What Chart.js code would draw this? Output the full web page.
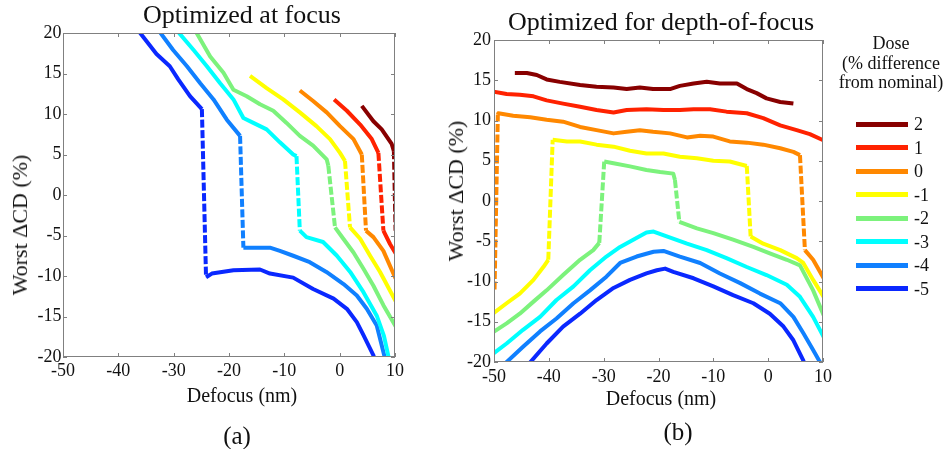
<!DOCTYPE html>
<html>
<head>
<meta charset="utf-8">
<title>Worst ΔCD versus defocus</title>
<script src="https://cdn.jsdelivr.net/npm/chart.js@4.4.1/dist/chart.umd.min.js"></script>
<style>
  html, body { margin: 0; padding: 0; background: #fff; }
  #page { position: relative; width: 948px; height: 449px; overflow: hidden;
          font-family: 'Liberation Serif', 'Times New Roman', serif; color: #111; }
  canvas { position: absolute; top: 0; }
  .txt { position: absolute; white-space: nowrap; line-height: 1; transform: translate(-50%, -50%); }
  .ytitle { font-size: 22px; transform: translate(-50%, -50%) rotate(-90deg); }
  .panel { font-size: 25px; }
  #legendTitle { position: absolute; left: 836px; top: 34px; width: 110px; text-align: center;
                 font-size: 18px; line-height: 19.5px; white-space: nowrap; }
  .swatch { position: absolute; left: 856px; width: 52px; height: 5px; }
  .lab { position: absolute; left: 914px; font-size: 18px; line-height: 18px; }
</style>
</head>
<body>
<div id="page">
  <canvas id="chartFocus" width="484" height="449" style="left:0px"></canvas>
  <canvas id="chartDof" width="442" height="449" style="left:440px"></canvas>
  <div class="txt ytitle" style="left:20px; top:225px;">Worst ΔCD (%)</div>
  <div class="txt ytitle" style="left:456px; top:191px;">Worst ΔCD (%)</div>
  <div class="txt panel" style="left:237px; top:435px;">(a)</div>
  <div class="txt panel" style="left:678px; top:431px;">(b)</div>
  <div id="legendTitle">Dose<br>(% difference<br>from nominal)</div>
  <div id="legendItems"></div>
</div>
<script>
// Dose levels (% difference from nominal) and the tick values of both axes
const doseLabels = ['2', '1', '0', '-1', '-2', '-3', '-4', '-5'];
const defocusTicks = [-50, -40, -30, -20, -10, 0, 10];
const cdTicks = [-20, -15, -10, -5, 0, 5, 10, 15, 20];

// (a) Optimized at focus — [defocus (nm), worst ΔCD (%)]
const focusDoseP2 = [[4.0,11.0],[6.1,9.1],[7.6,8.1],[9.4,6.3],[9.8,5.4],[10.1,-4.4]];
const focusDoseP1 = [[-1.0,11.8],[1.3,10.4],[3.7,8.7],[5.8,6.9],[7.0,5.2],[7.9,-4.4],[9.1,-6.05],[10.1,-7.2]];
const focusDose0 = [[-7.2,12.9],[-4.8,11.6],[-2.35,10.2],[0.06,8.5],[2.5,6.9],[4.0,5.0],[4.76,-4.4],[6.1,-5.2],[7.9,-6.9],[10.1,-10.3]];
const focusDoseM1 = [[-16.2,14.7],[-13.2,13.2],[-10.2,11.8],[-7.2,10.2],[-4.2,8.5],[-1.75,6.9],[0.06,5.2],[0.96,4.2],[1.87,-4.0],[3.7,-5.4],[5.5,-7.5],[7.3,-9.5],[10.1,-13.1]];
const focusDoseM2 = [[-26.1,20.3],[-23.4,17.1],[-21.0,15.1],[-19.2,13.0],[-16.8,12.2],[-14.4,11.2],[-12.0,10.4],[-9.6,8.9],[-7.2,7.3],[-4.8,6.1],[-2.35,4.4],[-2.05,3.6],[-0.84,-4.0],[0.66,-5.4],[2.5,-7.1],[4.3,-9.1],[6.1,-11.2],[7.9,-13.6],[10.1,-16.2]];
const focusDoseM3 = [[-29.4,20.3],[-26.4,17.9],[-24.0,15.9],[-21.6,13.8],[-19.2,11.8],[-17.4,9.5],[-15.6,8.9],[-13.2,8.1],[-10.8,6.5],[-8.4,5.0],[-7.8,4.8],[-7.2,-4.4],[-6.0,-5.2],[-3.0,-5.8],[-0.5,-7.5],[1.9,-9.5],[4.3,-12.0],[6.7,-14.9],[8.0,-17.4],[8.9,-20.2]];
const focusDoseM4 = [[-32.7,20.3],[-30.1,17.9],[-27.6,15.9],[-25.2,13.8],[-22.8,11.8],[-20.4,9.3],[-18.0,7.3],[-17.4,-6.5],[-12.6,-6.5],[-10.8,-6.9],[-8.4,-7.5],[-5.4,-8.3],[-2.4,-9.5],[0.7,-11.0],[3.1,-12.4],[4.9,-14.05],[6.7,-16.1],[8.2,-20.2]];
const focusDoseM5 = [[-36.4,20.3],[-33.1,17.4],[-30.7,15.9],[-29.2,14.3],[-27.05,12.2],[-24.9,10.6],[-24.15,-10.15],[-23.1,-9.7],[-19.2,-9.3],[-14.4,-9.2],[-12.6,-9.7],[-8.4,-10.2],[-4.8,-11.6],[-1.1,-12.8],[1.3,-14.05],[3.1,-15.7],[4.3,-17.3],[6.1,-19.8],[6.3,-20.3]];

// (b) Optimized for depth-of-focus — [defocus (nm), worst ΔCD (%)]
const dofDoseP2 = [[-46.2,15.9],[-44.0,15.9],[-42.2,15.65],[-40.4,15.1],[-38.0,14.8],[-34.3,14.4],[-31.3,14.2],[-28.2,14.1],[-25.8,13.9],[-23.4,14.1],[-21.0,13.9],[-17.9,13.9],[-16.1,14.3],[-13.6,14.6],[-11.2,14.8],[-8.8,14.6],[-5.7,14.6],[-3.9,13.9],[-2.1,13.4],[-0.3,12.75],[2.2,12.3],[4.6,12.1]];
const dofDoseP1 = [[-50.2,13.6],[-47.7,13.3],[-45.3,13.2],[-42.8,13.0],[-40.4,12.5],[-37.4,12.1],[-34.3,11.7],[-31.3,11.3],[-28.2,11.0],[-25.8,11.3],[-22.2,11.4],[-19.1,11.3],[-16.1,11.3],[-13.6,11.4],[-10.6,11.4],[-7.6,11.1],[-3.9,10.9],[-0.9,10.3],[2.2,9.4],[5.2,8.8],[7.6,8.3],[10.2,7.5]];
const dofDose0 = [[-49.9,-11.0],[-49.3,10.7],[-49.2,10.9],[-46.5,10.6],[-43.4,10.4],[-40.4,10.1],[-37.4,9.85],[-34.3,9.2],[-31.3,8.8],[-28.2,8.4],[-25.8,8.6],[-23.4,8.8],[-21.0,8.6],[-17.9,8.4],[-14.8,7.9],[-12.4,8.1],[-10.0,8.0],[-7.0,7.4],[-3.9,7.25],[-0.9,7.0],[2.2,6.55],[4.6,6.1],[5.8,5.7],[6.7,-6.1],[8.2,-7.3],[10.2,-9.7]];
const dofDoseM1 = [[-50.2,-14.0],[-47.7,-12.7],[-45.3,-11.5],[-42.8,-9.8],[-41.0,-8.2],[-40.1,-7.3],[-39.3,7.6],[-36.7,7.4],[-34.3,7.4],[-31.3,7.0],[-28.2,6.75],[-25.2,6.25],[-22.2,5.9],[-19.1,5.9],[-16.1,5.5],[-13.0,5.3],[-10.0,5.0],[-7.0,4.9],[-3.9,4.35],[-3.2,-4.4],[-0.9,-5.3],[2.2,-6.1],[5.2,-7.1],[6.4,-7.7],[8.2,-9.8],[10.2,-12.0]];
const dofDoseM2 = [[-50.2,-16.3],[-47.7,-15.2],[-45.3,-14.0],[-42.8,-12.5],[-40.4,-11.1],[-37.4,-9.2],[-34.3,-7.3],[-31.9,-6.1],[-30.8,-5.2],[-29.9,4.9],[-28.2,4.7],[-25.2,4.3],[-22.2,3.85],[-19.7,3.6],[-17.3,3.4],[-17.0,2.6],[-16.2,-2.6],[-13.0,-3.4],[-10.0,-4.0],[-6.4,-4.8],[-2.7,-5.7],[0.3,-6.5],[3.4,-7.3],[5.8,-8.0],[8.2,-11.1],[10.2,-14.3]];
const dofDoseM3 = [[-50.2,-19.0],[-47.7,-17.7],[-44.7,-16.0],[-41.6,-14.4],[-38.6,-12.3],[-35.5,-10.6],[-32.5,-8.6],[-29.5,-6.9],[-27.0,-5.7],[-24.6,-4.8],[-22.2,-3.9],[-20.9,-3.8],[-18.5,-4.4],[-14.8,-5.3],[-11.2,-6.1],[-7.6,-7.1],[-3.9,-8.2],[-0.3,-9.2],[3.4,-10.4],[5.8,-11.9],[8.2,-14.4],[10.2,-17.0]];
const dofDoseM4 = [[-48.0,-20.2],[-44.7,-18.1],[-41.6,-16.2],[-38.6,-14.6],[-35.5,-12.7],[-32.5,-11.1],[-29.5,-9.4],[-27.0,-7.7],[-24.0,-6.9],[-20.9,-6.3],[-19.1,-6.2],[-16.1,-6.9],[-12.4,-7.7],[-8.8,-9.0],[-5.1,-10.2],[-1.5,-11.5],[2.2,-12.7],[4.6,-14.4],[6.4,-16.4],[8.2,-18.5],[9.6,-20.2]];
const dofDoseM5 = [[-43.6,-20.2],[-40.4,-17.7],[-37.4,-15.6],[-34.3,-14.0],[-31.3,-12.3],[-28.2,-10.8],[-25.2,-9.8],[-22.2,-9.0],[-20.3,-8.6],[-18.8,-8.4],[-17.3,-8.8],[-13.6,-9.6],[-10.0,-10.6],[-6.4,-11.7],[-2.7,-12.7],[0.3,-14.0],[2.8,-15.6],[4.6,-17.3],[6.4,-19.8],[6.6,-20.2]];

const focusSeries = [focusDoseP2, focusDoseP1, focusDose0, focusDoseM1, focusDoseM2, focusDoseM3, focusDoseM4, focusDoseM5];
const dofSeries = [dofDoseP2, dofDoseP1, dofDose0, dofDoseM1, dofDoseM2, dofDoseM3, dofDoseM4, dofDoseM5];

// jet-like colour per dose, high dose = dark red
const doseColors = ['#880000', '#ff2200', '#ff8800', '#ffff00', '#7cf27c', '#00ffff', '#1080ff', '#0a28ff'];

const FONT = "'Liberation Serif', 'Times New Roman', serif";
const INK = '#111111';

// A near-vertical step marks a switch of the limiting feature: drawn dashed
function isStep(ctx) {
  const dx = Math.abs(ctx.p1.parsed.x - ctx.p0.parsed.x);
  const dy = Math.abs(ctx.p1.parsed.y - ctx.p0.parsed.y);
  return dy > 4 && dy > 4 * dx;
}

function makeDatasets(series) {
  return series.map((pts, i) => ({
    label: doseLabels[i],
    data: pts.map(([x, y]) => ({ x, y })),
    borderColor: doseColors[i],
    backgroundColor: doseColors[i],
    borderWidth: 4,
    pointRadius: 0,
    tension: 0,
    fill: false,
    clip: 0,
    borderJoinStyle: 'round',
    segment: { borderDash: ctx => (isStep(ctx) ? [8, 2.5] : undefined) }
  }));
}

// Box around the plot and short inward tick marks on all four sides
const boxTicks = {
  id: 'boxTicks',
  afterDatasetsDraw(chart) {
    const { ctx, chartArea: a, scales: { x, y } } = chart;
    ctx.save();
    ctx.strokeStyle = '#808080';
    ctx.lineWidth = 1;
    ctx.strokeRect(a.left + 0.5, a.top + 0.5, a.right - a.left - 1, a.bottom - a.top - 1);
    ctx.beginPath();
    x.ticks.forEach(t => {
      const p = Math.round(x.getPixelForValue(t.value)) + 0.5;
      ctx.moveTo(p, a.bottom); ctx.lineTo(p, a.bottom - 4);
      ctx.moveTo(p, a.top); ctx.lineTo(p, a.top + 4);
    });
    y.ticks.forEach(t => {
      const p = Math.round(y.getPixelForValue(t.value)) + 0.5;
      ctx.moveTo(a.left, p); ctx.lineTo(a.left + 4, p);
      ctx.moveTo(a.right, p); ctx.lineTo(a.right - 4, p);
    });
    ctx.stroke();
    ctx.restore();
  }
};

function makeChart(canvasId, series, g) {
  return new Chart(document.getElementById(canvasId), {
    type: 'line',
    data: { datasets: makeDatasets(series) },
    plugins: [boxTicks],
    options: {
      responsive: false,
      animation: false,
      events: [],
      layout: { padding: { left: 0, right: 0, top: 0, bottom: g.padBottom } },
      plugins: {
        legend: { display: false },
        tooltip: { enabled: false },
        title: {
          display: true, text: g.title, color: INK,
          font: { family: FONT, size: 26, weight: 'normal', lineHeight: 1 },
          padding: { top: g.titleTop, bottom: g.titleBottom }
        },
        subtitle: {
          display: true, position: 'bottom', text: 'Defocus (nm)', color: INK,
          font: { family: FONT, size: 20, weight: 'normal', lineHeight: 1.2 },
          padding: { top: g.xTitleTop, bottom: 0 }
        }
      },
      scales: {
        x: {
          type: 'linear', min: -50, max: 10,
          afterBuildTicks: s => { s.ticks = defocusTicks.map(v => ({ value: v })); },
          afterFit: s => { s.height = g.xHeight; },
          grid: { display: false, drawTicks: false },
          border: { display: false },
          ticks: { color: INK, padding: g.xTickPad, maxRotation: 0, autoSkip: false,
                   font: { family: FONT, size: 18, lineHeight: 1.2 } }
        },
        y: {
          type: 'linear', min: -20, max: 20,
          afterBuildTicks: s => { s.ticks = cdTicks.map(v => ({ value: v })); },
          afterFit: s => { s.width = g.yWidth; },
          grid: { display: false, drawTicks: false },
          border: { display: false },
          ticks: { color: INK, padding: g.yTickPad, autoSkip: false,
                   font: { family: FONT, size: 18, lineHeight: 1.2 } }
        },
        // empty right-hand margin, so that the titles centre on the whole canvas
        yMargin: {
          type: 'linear', position: 'right', display: true,
          afterFit: s => { s.width = g.rightMargin; },
          grid: { display: false, drawTicks: false },
          border: { display: false },
          ticks: { display: false }
        }
      }
    }
  });
}

makeChart('chartFocus', focusSeries, {
  title: 'Optimized at focus', titleTop: 3, titleBottom: 4,
  yWidth: 63, yTickPad: 1.5, rightMargin: 89,
  xHeight: 26, xTickPad: 3, xTitleTop: 1.4, padBottom: 40.6
});

makeChart('chartDof', dofSeries, {
  title: 'Optimized for depth-of-focus', titleTop: 10, titleBottom: 4,
  yWidth: 54, yTickPad: 3, rightMargin: 59,
  xHeight: 24, xTickPad: 4, xTitleTop: 1.7, padBottom: 37.3
});

// Dose legend
const legendBox = document.getElementById('legendItems');
doseLabels.forEach((lab, i) => {
  const cy = 124 + i * 23.5;
  const sw = document.createElement('div');
  sw.className = 'swatch';
  sw.style.top = (cy - 2.5) + 'px';
  sw.style.background = doseColors[i];
  legendBox.appendChild(sw);
  const t = document.createElement('div');
  t.className = 'lab';
  t.style.top = (cy - 9) + 'px';
  t.textContent = lab;
  legendBox.appendChild(t);
});
</script>
</body>
</html>
